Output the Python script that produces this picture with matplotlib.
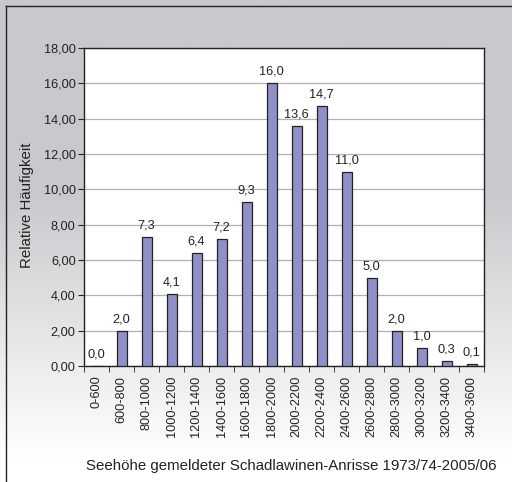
import matplotlib
matplotlib.use("Agg")
import matplotlib.pyplot as plt
import numpy as np
from matplotlib.lines import Line2D

categories = ["0-600", "600-800", "800-1000", "1000-1200", "1200-1400", "1400-1600",
              "1600-1800", "1800-2000", "2000-2200", "2200-2400", "2400-2600",
              "2600-2800", "2800-3000", "3000-3200", "3200-3400", "3400-3600"]
values = [0.0, 2.0, 7.3, 4.1, 6.4, 7.2, 9.3, 16.0, 13.6, 14.7, 11.0, 5.0, 2.0, 1.0, 0.3, 0.1]
yticks = [0, 2, 4, 6, 8, 10, 12, 14, 16, 18]

plt.rcParams['font.family'] = ['Liberation Sans', 'DejaVu Sans']

W, H = 512, 482
fig = plt.figure(figsize=(W / 100, H / 100), dpi=100)

# gradient background
bg = fig.add_axes([0, 0, 1, 1], zorder=-10)
grad = np.linspace(0, 1, 256)
top = np.array([200, 201, 204]) / 255.0
bot = np.array([255, 255, 255]) / 255.0
t = np.clip((grad - 0.4) / 0.55, 0, 1)
cols = top[None, :] * (1 - t[:, None]) + bot[None, :] * t[:, None]
img = np.repeat(cols[:, None, :], 2, axis=1)
bg.imshow(img, aspect='auto', extent=[0, 1, 0, 1], origin='upper')
bg.set_axis_off()

# outer border lines (left and top)
fig.add_artist(Line2D([5.5 / W, 5.5 / W], [0, 1 - 6 / H], color='#222222', lw=1.0))
fig.add_artist(Line2D([5.5 / W, 1], [1 - 6 / H, 1 - 6 / H], color='#222222', lw=1.0))

left, right, topp, bottom = 84, 484, 48, 366
ax = fig.add_axes([left / W, 1 - bottom / H, (right - left) / W, (bottom - topp) / H])
ax.set_facecolor('white')

x = np.arange(len(categories))
bars = ax.bar(x, values, width=0.4, color='#9090c8', edgecolor='#222222', linewidth=0.9, zorder=3)
for xi, v in zip(x, values):
    ax.annotate(f"{v:.1f}".replace('.', ','), (xi, v), xytext=(0, 4), textcoords='offset points',
                ha='center', va='bottom', fontsize=9.2, color='#222222')

ax.set_xlim(-0.5, len(categories) - 0.5)
ax.set_ylim(0, 18)
ax.set_yticks(yticks)
ax.set_yticklabels([f"{v:.2f}".replace('.', ',') for v in yticks], fontsize=9.2, color='#222222')
ax.yaxis.grid(True, color='#b0b0b0', linewidth=0.9, zorder=0)
ax.set_axisbelow(True)

ax.set_xticks(x)
ax.set_xticklabels(categories, rotation=90, fontsize=9.2, color='#222222')
ax.tick_params(axis='x', which='major', length=0, pad=7)
ax.set_xticks(np.arange(-0.5, len(categories), 1), minor=True)
ax.tick_params(axis='x', which='minor', length=4, direction='out', color='#222222')
ax.tick_params(axis='y', length=4, direction='out', color='#222222', pad=2)

for s in ax.spines.values():
    s.set_color('#222222')
    s.set_linewidth(1.0)

fig.text(27 / W, 1 - 205 / H, "Relative Häufigkeit", rotation=90,
         ha='center', va='center', fontsize=10.8, color='#222222')
fig.text(291 / W, 1 - 466 / H, "Seehöhe gemeldeter Schadlawinen-Anrisse 1973/74-2005/06",
         ha='center', va='center', fontsize=10.8, color='#222222')

fig.savefig("out.png", dpi=100)
